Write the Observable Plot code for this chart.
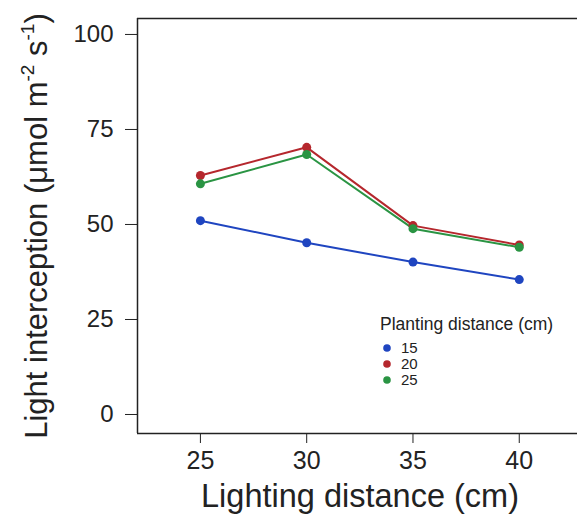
<!DOCTYPE html>
<html><head><meta charset="utf-8">
<script src="https://cdn.jsdelivr.net/npm/d3@7"></script>
<script src="https://cdn.jsdelivr.net/npm/@observablehq/plot@0.6"></script>
<style>
body{margin:0;background:#fff;font-family:"Liberation Sans",Arial,sans-serif;}
#chart{position:relative;width:577px;height:518px;}
</style></head>
<body><div id="chart"></div>
<script>
const lightingDistance = [25, 30, 35, 40];
const plantingDistances = ["15", "20", "25"];
const series15 = [51.0, 45.2, 40.1, 35.5];
const series20 = [62.9, 70.3, 49.7, 44.6];
const series25 = [60.7, 68.4, 48.9, 44.0];
const seriesColors = ["#1f45c0", "#b5272d", "#2a9443"];
const yTicks = [0, 25, 50, 75, 100];
const xTicks = [25, 30, 35, 40];

const allSeries = [series15, series20, series25];
const data = [];
plantingDistances.forEach((p, i) => lightingDistance.forEach((x, j) => data.push({x, y: allSeries[i][j], p})));

const color = {domain: plantingDistances, range: seriesColors};
const plot = Plot.plot({
  width: 577, height: 518,
  marginTop: 18, marginBottom: 85, marginLeft: 137, marginRight: 0,
  style: {fontFamily: "Liberation Sans, Arial, sans-serif", color: "#222", background: "#fff"},
  x: {domain: [22.04, 42.74], label: null},
  y: {domain: [-5, 104.2], label: null},
  color,
  marks: [
    Plot.axisX({ticks: xTicks, tickSize: 10, tickPadding: 8, fontSize: 25, label: null, tickFormat: d => d}),
    Plot.axisY({ticks: yTicks, tickSize: 12, tickPadding: 12, fontSize: 24, label: null}),
    Plot.ruleX([22.04], {stroke: "#222", strokeWidth: 1.5}),
    Plot.ruleY([104.2], {stroke: "#222", strokeWidth: 1.5}),
    Plot.ruleY([-5], {stroke: "#222", strokeWidth: 1.5}),
    Plot.line(data, {x: "x", y: "y", stroke: "p", strokeWidth: 2}),
    Plot.dot(data, {x: "x", y: "y", fill: "p", r: 4.5})
  ]
});
document.getElementById("chart").appendChild(plot);

const svg = d3.select(plot);
svg.append("text").attr("x", 360).attr("y", 507).attr("text-anchor", "middle")
  .attr("font-size", 32.5).attr("fill", "#222").text("Lighting distance (cm)");
const yl = svg.append("text").attr("transform", "translate(47,226) rotate(-90)")
  .attr("text-anchor", "middle").attr("font-size", 31).attr("fill", "#222");
yl.append("tspan").text("Light interception (μmol m");
yl.append("tspan").attr("dy", -13).attr("font-size", 19).text("-2");
yl.append("tspan").attr("dy", 13).text(" s");
yl.append("tspan").attr("dy", -13).attr("font-size", 19).text("-1");
yl.append("tspan").attr("dy", 13).text(")");

const lg = svg.append("g").attr("font-size", 15).attr("fill", "#222").attr("text-anchor", "start");
lg.append("text").attr("x", 380).attr("y", 330).attr("font-size", 17.5).text("Planting distance (cm)");
plantingDistances.forEach((p, i) => {
  lg.append("circle").attr("cx", 387).attr("cy", 348 + i * 16).attr("r", 3.8).attr("fill", seriesColors[i]);
  lg.append("text").attr("x", 401).attr("y", 353 + i * 16).text(p);
});
</script></body></html>
